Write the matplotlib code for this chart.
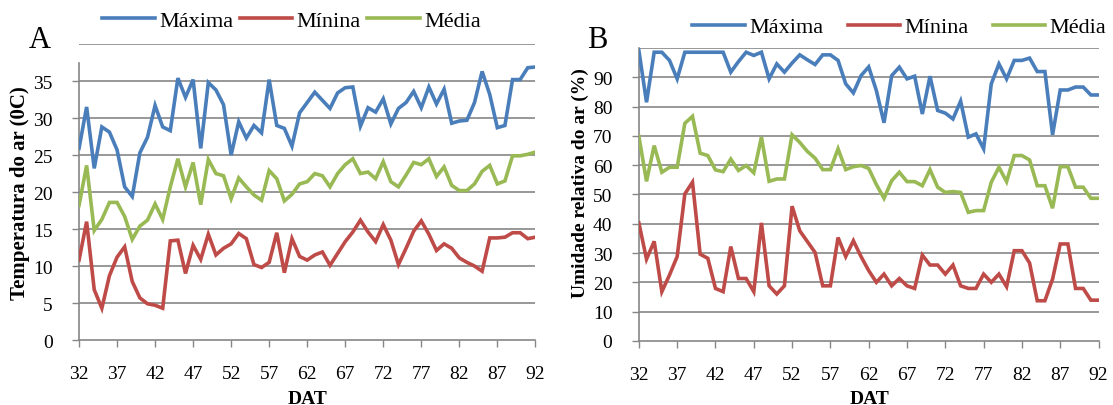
import numpy as np
import matplotlib
matplotlib.use("Agg")
import matplotlib.pyplot as plt

# DAT (days after transplanting)
dat = list(range(32, 93))

# panel A - air temperature (0C)
temp_max = [25.9, 31.5, 23.2, 28.8, 28.1, 25.7, 20.7, 19.4, 25.3, 27.4,
            31.7, 28.8, 28.3, 35.4, 32.8, 35.2, 25.9, 34.8, 33.8, 31.8,
            25.0, 29.5, 27.3, 29.0, 28.0, 35.2, 29.0, 28.6, 26.2, 30.7,
            32.1, 33.5, 32.4, 31.3, 33.4, 34.1, 34.2, 28.9, 31.4, 30.8,
            32.6, 29.2, 31.3, 32.1, 33.6, 31.4, 34.2, 31.9, 33.9, 29.3,
            29.6, 29.7, 32.1, 36.3, 33.2, 28.7, 29.0, 35.2, 35.2, 36.8, 36.9]
temp_min = [10.8, 16.0, 6.8, 4.3, 8.7, 11.2, 12.6, 7.9, 5.7, 4.9,
            4.7, 4.3, 13.4, 13.5, 9.0, 12.8, 10.9, 14.3, 11.5, 12.4,
            13.0, 14.4, 13.7, 10.2, 9.8, 10.5, 14.5, 9.1, 13.7, 11.3,
            10.8, 11.5, 11.9, 10.1, 11.7, 13.3, 14.6, 16.2, 14.6, 13.3,
            15.6, 13.5, 10.2, 12.4, 14.7, 16.1, 14.3, 12.1, 13.0, 12.4,
            11.1, 10.5, 10.0, 9.3, 13.8, 13.8, 13.9, 14.5, 14.5, 13.7, 13.9]
temp_med = [18.2, 23.6, 14.8, 16.3, 18.6, 18.6, 16.7, 13.6, 15.4, 16.2,
            18.4, 16.3, 20.7, 24.5, 20.7, 24.0, 18.3, 24.4, 22.5, 22.2,
            19.1, 21.9, 20.7, 19.6, 18.9, 22.9, 21.8, 18.8, 19.7, 21.1,
            21.4, 22.5, 22.2, 20.7, 22.5, 23.7, 24.5, 22.5, 22.7, 21.8,
            24.1, 21.4, 20.7, 22.3, 24.0, 23.7, 24.5, 22.1, 23.4, 20.9,
            20.2, 20.2, 21.1, 22.8, 23.6, 21.1, 21.5, 24.9, 24.9, 25.1, 25.4]

# panel B - relative air humidity (%)
ur_max = [99.2, 81.5, 98.6, 98.6, 95.8, 89.5, 98.6, 98.6, 98.6, 98.6,
          98.6, 98.6, 91.8, 95.4, 98.6, 97.5, 98.6, 89.5, 94.6, 91.8,
          94.9, 97.7, 96.0, 94.4, 97.7, 97.7, 95.8, 87.8, 84.7, 90.6,
          93.6, 85.5, 74.5, 90.6, 93.5, 89.5, 90.4, 77.5, 90.4, 78.7,
          77.8, 75.8, 81.9, 69.6, 70.7, 65.6, 87.8, 94.6, 89.5, 95.8,
          95.8, 96.6, 92.0, 92.0, 70.4, 85.7, 85.7, 86.7, 86.7, 84.0, 84.0]
ur_min = [40.3, 27.9, 34.0, 16.8, 22.5, 28.8, 50.2, 54.2, 29.6, 28.2,
          17.9, 16.8, 32.2, 21.3, 21.3, 16.8, 40.3, 18.8, 16.0, 18.8,
          46.0, 37.6, 33.9, 30.2, 18.8, 18.8, 35.3, 28.8, 34.2, 28.8,
          24.0, 20.0, 22.8, 18.8, 21.3, 18.8, 17.9, 29.3, 25.9, 25.9,
          22.8, 25.9, 18.8, 17.9, 17.9, 22.8, 20.0, 22.8, 18.5, 30.8,
          30.8, 26.6, 13.7, 13.7, 21.1, 33.1, 33.1, 17.9, 17.9, 13.9, 13.9]
ur_med = [69.9, 54.5, 66.7, 57.6, 59.3, 59.3, 74.3, 76.7, 64.1, 63.3,
          58.4, 57.8, 62.1, 58.2, 59.9, 57.4, 69.6, 54.5, 55.3, 55.3,
          70.4, 67.8, 64.7, 62.4, 58.5, 58.5, 65.6, 58.5, 59.5, 59.9,
          58.9, 53.4, 48.7, 54.7, 57.6, 54.4, 54.4, 53.0, 58.5, 52.5,
          50.7, 51.0, 50.7, 43.9, 44.5, 44.5, 54.2, 59.3, 54.4, 63.3,
          63.3, 61.8, 53.0, 53.0, 45.3, 59.5, 59.5, 52.5, 52.5, 48.7, 48.7]

xticks = list(range(32, 93, 5))
series_names = ["Máxima", "Mínina", "Média"]
colors = ["#4A7EBB", "#BE4B48", "#98B954"]

plt.rcParams['font.family'] = ['Liberation Serif', 'DejaVu Serif']

fig = plt.figure(figsize=(11.13, 4.06), dpi=100)
axA = fig.add_axes([0.071, 0.160, 0.410, 0.729])
axB = fig.add_axes([0.574, 0.158, 0.413, 0.721])


def style_axis(ax, ymax, ystep, yticks_max):
    ax.set_xlim(32, 92)
    ax.set_ylim(0, ymax)
    ax.set_xticks(xticks)
    ax.set_yticks(np.arange(0, yticks_max + 1, ystep))
    ax.tick_params(axis='both', color='#868686', length=5, width=1,
                   direction='out')
    ax.tick_params(axis='y', labelsize=14, pad=14)
    ax.tick_params(axis='x', labelsize=14, pad=13)
    for y in np.arange(ystep, ymax + 0.1, ystep):
        ax.axhline(y, color='#868686', lw=1.2, zorder=0)
    for s in ['top', 'right']:
        ax.spines[s].set_visible(False)
    for s in ['left', 'bottom']:
        ax.spines[s].set_color('#868686')
        ax.spines[s].set_linewidth(1.2)


for ax, data in [(axA, [temp_max, temp_min, temp_med]),
                 (axB, [ur_max, ur_min, ur_med])]:
    for vals, name, c in zip(data, series_names, colors):
        ax.plot(dat, vals, color=c, lw=2.6, label=name,
                solid_joinstyle='miter', zorder=3)

style_axis(axA, 40, 5, 35)
style_axis(axB, 100, 10, 90)
axA.spines['left'].set_bounds(0, 37.5)

# legends placed in figure coordinates above each panel
axA.legend(loc='center left', bbox_to_anchor=(0.092, 0.946),
           bbox_transform=fig.transFigure, ncol=3, frameon=False,
           fontsize=16, handlelength=2.35, handletextpad=0.2,
           columnspacing=0.3, borderpad=0, borderaxespad=0)
axB.legend(loc='center left', bbox_to_anchor=(0.622, 0.931),
           bbox_transform=fig.transFigure, ncol=3, frameon=False,
           fontsize=16, handlelength=2.35, handletextpad=0.2,
           columnspacing=1.1, borderpad=0, borderaxespad=0)

fig.text(0.018, 0.525, "Temperatura do ar (0C)", rotation=90,
         fontsize=15, fontweight='bold', ha='center', va='center')
fig.text(0.521, 0.549, "Umidade relativa do ar (%)", rotation=90,
         fontsize=14, fontweight='bold', ha='center', va='center')
fig.text(0.276, 0.006, "DAT", fontsize=14, fontweight='bold',
         ha='center', va='baseline')
fig.text(0.781, 0.006, "DAT", fontsize=14, fontweight='bold',
         ha='center', va='baseline')
fig.text(0.036, 0.900, "A", fontsize=22, ha='center', va='center')
fig.text(0.537, 0.900, "B", fontsize=22, ha='center', va='center')

fig.savefig("out.png", dpi=100)
